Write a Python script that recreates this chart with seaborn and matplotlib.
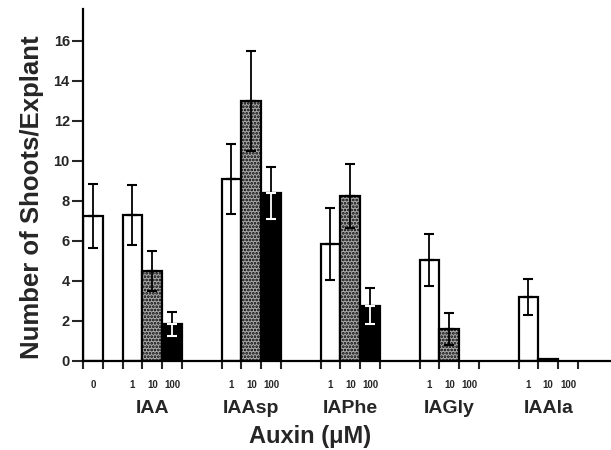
import numpy as np
import pandas as pd
import matplotlib
matplotlib.use("Agg")
import matplotlib.pyplot as plt
import seaborn as sns

# data (shoots per explant, mean and error)
auxins = ["IAA", "IAAsp", "IAPhe", "IAGly", "IAAla"]
concs = ["1", "10", "100"]
control_mean = 7.25
control_err = 1.6
means = {
    "IAA":   [7.3, 4.5, 1.85],
    "IAAsp": [9.1, 13.0, 8.4],
    "IAPhe": [5.85, 8.25, 2.75],
    "IAGly": [5.05, 1.6, 0.0],
    "IAAla": [3.2, 0.1, 0.0],
}
errs = {
    "IAA":   [1.5, 1.0, 0.6],
    "IAAsp": [1.75, 2.5, 1.3],
    "IAPhe": [1.8, 1.6, 0.9],
    "IAGly": [1.3, 0.8, 0.0],
    "IAAla": [0.9, 0.0, 0.0],
}
y_ticks = [0, 2, 4, 6, 8, 10, 12, 14, 16]

# build table: x in bar-width units, control at 0..1, groups start every 5 units
rows = [{"pos": 0.5, "conc": "0", "auxin": "control", "shoots": control_mean, "err": control_err}]
for i, a in enumerate(auxins):
    start = 2 + 5 * i
    for j, c in enumerate(concs):
        rows.append({"pos": start + j + 0.5, "conc": c, "auxin": a,
                     "shoots": means[a][j], "err": errs[a][j]})
df = pd.DataFrame(rows)

sns.set_style("white")
plt.rcParams["font.family"] = ["Liberation Sans", "DejaVu Sans"]
plt.rcParams["font.weight"] = "bold"
plt.rcParams["hatch.linewidth"] = 1.3

fig = plt.figure(figsize=(6.11, 4.5), dpi=100)
ax = fig.add_axes([83 / 611, 89 / 450, 528 / 611, 352.4 / 450])

stipple = "#a9a9a9"
palette = {"0": "white", "1": "white", "10": stipple, "100": "black"}
plot_df = df[df["shoots"] > 0]
sns.barplot(data=plot_df, x="pos", y="shoots", hue="conc", native_scale=True,
            width=1, dodge=False, palette=palette, edgecolor="black",
            linewidth=1.6, errorbar=None, legend=False, ax=ax)

# stipple on the 10 uM bars
for p in ax.patches:
    fc = p.get_facecolor()
    if abs(fc[0] - 0xa9 / 255) < 0.01:
        p.set_hatch(".....")

# error bars: upper half always black, lower half white inside black bars
eb = df[df["err"] > 0]
ax.errorbar(eb["pos"], eb["shoots"], yerr=[np.zeros(len(eb)), eb["err"]],
            fmt="none", ecolor="black", elinewidth=1.3, capsize=3.5, capthick=1.5, zorder=5)
lo_black = eb[eb["conc"] != "100"]
lo_white = eb[eb["conc"] == "100"]
ax.errorbar(lo_black["pos"], lo_black["shoots"], yerr=[lo_black["err"], np.zeros(len(lo_black))],
            fmt="none", ecolor="black", elinewidth=1.3, capsize=3.5, capthick=1.5, zorder=5)
ax.errorbar(lo_white["pos"], lo_white["shoots"], yerr=[lo_white["err"], np.zeros(len(lo_white))],
            fmt="none", ecolor="white", elinewidth=1.3, capsize=3.5, capthick=1.5, zorder=5)

ax.set_xlim(0, 26.67)
ax.set_ylim(0, 17.6)

# tick marks at bar edges, concentration labels under bar centres
edges = [0, 1] + [2 + 5 * i + k for i in range(len(auxins)) for k in range(4)]
ax.set_xticks(edges)
ax.set_xticklabels([])
ax.set_xticks(df["pos"], labels=df["conc"], minor=True)
ax.tick_params(axis="x", which="major", direction="out", length=6, width=1.5, bottom=True)
ax.tick_params(axis="x", which="minor", length=0, pad=14, labelsize=7)

ax.set_yticks(y_ticks)
ax.tick_params(axis="y", direction="out", length=8, width=1.5, pad=1.5, labelsize=10.5, left=True)

for i, a in enumerate(auxins):
    ax.text(2 + 5 * i + 1.5, -47 / 20.02, a, ha="center", va="center",
            fontsize=14, fontweight="bold")

for side in ["top", "right"]:
    ax.spines[side].set_visible(False)
for side in ["left", "bottom"]:
    ax.spines[side].set_linewidth(1.6)
    ax.spines[side].set_color("black")

ax.set_xlabel("Auxin (\u03bcM)", fontsize=17, fontweight="bold", va="center")
ax.xaxis.set_label_coords((310 - 83) / 528, (361 - 437) / 352.4)
ax.set_ylabel("Number of Shoots/Explant", fontsize=18.5, fontweight="bold", va="center")
ax.yaxis.set_label_coords((32 - 83) / 528, (361 - 197) / 352.4)

plt.savefig("out.png", dpi=100)
